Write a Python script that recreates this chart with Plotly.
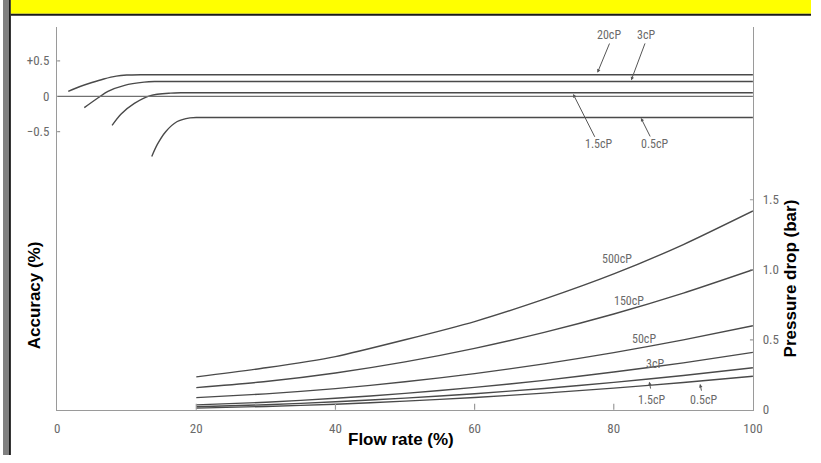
import plotly.graph_objects as go

W, H = 821, 463

# ---------------- data ----------------
# Accuracy (%) vs flow rate (%) – upper curves
acc_20cp_x = [1.6, 3.2, 5.0, 6.7, 8.5, 10.0, 12.0, 100]
acc_20cp_y = [0.07, 0.135, 0.195, 0.245, 0.285, 0.30, 0.305, 0.305]
acc_3cp_x = [3.9, 5.9, 7.3, 9.7, 12.5, 14.0, 100]
acc_3cp_y = [-0.16, -0.02, 0.07, 0.155, 0.20, 0.21, 0.21]
acc_15cp_x = [7.9, 9.2, 11.1, 13.4, 16.3, 18.0, 100]
acc_15cp_y = [-0.41, -0.25, -0.10, 0.01, 0.045, 0.05, 0.05]
acc_05cp_x = [13.6, 14.4, 15.6, 17.2, 19.1, 20.5, 100]
acc_05cp_y = [-0.85, -0.68, -0.50, -0.36, -0.305, -0.30, -0.30]

# Pressure drop (bar) vs flow rate (%) – lower curves
flow = [20, 30, 40, 50, 60, 70, 80, 90, 100]
dp_500cp = [0.235, 0.30, 0.38, 0.50, 0.63, 0.79, 0.97, 1.18, 1.42]
dp_150cp = [0.158, 0.202, 0.263, 0.342, 0.439, 0.553, 0.684, 0.833, 1.00]
dp_50cp = [0.087, 0.114, 0.151, 0.200, 0.258, 0.328, 0.408, 0.499, 0.60]
dp_3cp = [0.035, 0.054, 0.082, 0.117, 0.160, 0.210, 0.270, 0.335, 0.41]
dp_15cp = [0.022, 0.036, 0.057, 0.083, 0.115, 0.152, 0.196, 0.245, 0.30]
dp_05cp = [0.012, 0.024, 0.040, 0.062, 0.088, 0.119, 0.155, 0.195, 0.24]

x_ticks = [0, 20, 40, 60, 80, 100]
acc_ticks = [0.5, 0, -0.5]
acc_tick_text = ["+0.5", "0", "\u22120.5"]
dp_ticks = [0, 0.5, 1.0, 1.5]
dp_tick_text = ["0", "0.5", "1.0", "1.5"]

# ---------------- style ----------------
LINE = "#4a4a4a"
AXC = "#9a9a9a"
TXT = "#6a6a6a"
SCAN_FONT = "Liberation Sans Narrow, Roboto Condensed, Liberation Sans, sans-serif"
TITLE_FONT = "Liberation Sans, Arial, sans-serif"

def py(px):  # pixel row -> paper y
    return 1 - px / H

def pxx(px):  # pixel col -> paper x
    return px / W

fig = go.Figure()

for xs, ys in [(acc_20cp_x, acc_20cp_y), (acc_3cp_x, acc_3cp_y),
               (acc_15cp_x, acc_15cp_y), (acc_05cp_x, acc_05cp_y)]:
    fig.add_trace(go.Scatter(x=xs, y=ys, mode="lines", yaxis="y",
                             line=dict(color=LINE, width=1.4, shape="spline", smoothing=0.8),
                             hoverinfo="skip", showlegend=False))

for ys in [dp_500cp, dp_150cp, dp_50cp, dp_3cp, dp_15cp, dp_05cp]:
    fig.add_trace(go.Scatter(x=flow, y=ys, mode="lines", yaxis="y2",
                             line=dict(color=LINE, width=1.4, shape="spline", smoothing=0.6),
                             hoverinfo="skip", showlegend=False))

dom_x = [pxx(55), pxx(762)]
dom_y = [py(417), py(27)]

fig.update_layout(
    width=W, height=H, autosize=False,
    margin=dict(l=0, r=0, t=0, b=0),
    paper_bgcolor="white", plot_bgcolor="white",
    xaxis=dict(domain=dom_x, range=[0, 100], showgrid=False, zeroline=False,
               showline=True, linecolor=AXC, linewidth=1.2, mirror=False,
               tickvals=x_ticks, ticks="", ticklabelstandoff=7,
               tickfont=dict(family=SCAN_FONT, size=13, color=TXT)),
    yaxis=dict(domain=dom_y, range=[-4.431, 0.986], showgrid=False, zeroline=False,
               showline=True, linecolor=AXC, linewidth=1.2,
               tickvals=acc_ticks, ticktext=acc_tick_text, ticks="", ticklabelstandoff=4,
               tickfont=dict(family=SCAN_FONT, size=13, color=TXT)),
    yaxis2=dict(domain=dom_y, range=[0, 2.737], overlaying="y", side="right",
                showgrid=False, zeroline=False, showline=True, linecolor=AXC, linewidth=1.2,
                tickvals=dp_ticks, ticktext=dp_tick_text, ticks="", ticklabelstandoff=6,
                tickfont=dict(family=SCAN_FONT, size=13, color=TXT)),
)

shapes = []
# frame decorations: gray left strip, yellow header band
shapes.append(dict(type="rect", xref="paper", yref="paper", x0=0, x1=pxx(6), y0=0, y1=1,
                   fillcolor="#808080", line_width=0, layer="above"))
shapes.append(dict(type="rect", xref="paper", yref="paper", x0=pxx(6), x1=pxx(8), y0=0, y1=1,
                   fillcolor="#1a1a1a", line_width=0, layer="above"))
shapes.append(dict(type="rect", xref="paper", yref="paper", x0=pxx(8), x1=1, y0=py(14), y1=1,
                   fillcolor="#ffff00", line_width=0, layer="above"))
shapes.append(dict(type="rect", xref="paper", yref="paper", x0=pxx(8), x1=1, y0=py(16), y1=py(14),
                   fillcolor="#1a1a1a", line_width=0, layer="above"))
# zero reference line of the accuracy scale
shapes.append(dict(type="line", xref="x", yref="y", x0=0, x1=100, y0=0, y1=0,
                   line=dict(color="#707070", width=1.2)))
# crossing tick marks
for v in acc_ticks:
    if v != 0:
        shapes.append(dict(type="line", xref="x", yref="y", xsizemode="pixel", xanchor=0,
                           x0=-4, x1=3, y0=v, y1=v, line=dict(color=AXC, width=1.2)))
for v in dp_ticks[1:]:
    shapes.append(dict(type="line", xref="x", yref="y2", xsizemode="pixel", xanchor=100,
                       x0=-3, x1=4, y0=v, y1=v, line=dict(color=AXC, width=1.2)))
for v in x_ticks[1:-1]:
    shapes.append(dict(type="line", xref="x", yref="y2", ysizemode="pixel", yanchor=0,
                       x0=v, x1=v, y0=-3, y1=6, line=dict(color=AXC, width=1.2)))
fig.update_layout(shapes=shapes)

ann = []
lab_font = dict(family=SCAN_FONT, size=12, color=TXT)
# upper curve labels (accuracy scale)
for text, x, y in [("20cP", 79.35, 0.86), ("3cP", 84.7, 0.86),
                   ("1.5cP", 77.9, -0.68), ("0.5cP", 85.9, -0.68)]:
    ann.append(dict(text=text, x=x, y=y, xref="x", yref="y", showarrow=False, font=lab_font,
                    xanchor="center", yanchor="middle"))
# lower curve labels (pressure scale)
for text, x, y in [("500cP", 80.5, 1.074), ("150cP", 82.15, 0.774), ("50cP", 84.3, 0.505),
                   ("3cP", 85.9, 0.33), ("1.5cP", 85.56, 0.07), ("0.5cP", 93.0, 0.07)]:
    ann.append(dict(text=text, x=x, y=y, xref="x", yref="y2", showarrow=False, font=lab_font,
                    xanchor="center", yanchor="middle"))
# pointer arrows
for x, y, yr, ax, ay in [(77.65, 0.333, "y", 12.7, -30.7), (82.5, 0.226, "y", 14.4, -38.4),
                         (74.16, 0.032, "y", 22.4, 44.3), (83.9, -0.306, "y", 10, 20),
                         (85.1, 0.201, "y2", 1.6, 8.4), (92.4, 0.185, "y2", 1.7, 8.3)]:
    ann.append(dict(text="", x=x, y=y, xref="x", yref=yr, ax=ax, ay=ay, showarrow=True,
                    arrowhead=2, arrowsize=0.7, arrowwidth=1, arrowcolor="#555555", standoff=0))
# axis titles
title_font = dict(family=TITLE_FONT, size=17, color="black")
ann.append(dict(text="<b>Flow rate (%)</b>", x=pxx(404), y=py(447), xref="paper", yref="paper",
                showarrow=False, font=title_font, xanchor="center", yanchor="middle"))
ann.append(dict(text="<b>Accuracy (%)</b>", x=pxx(32), y=py(300), xref="paper", yref="paper",
                showarrow=False, textangle=-90, font=title_font, xanchor="center", yanchor="middle"))
ann.append(dict(text="<b>Pressure drop (bar)</b>", x=pxx(800), y=py(283), xref="paper", yref="paper",
                showarrow=False, textangle=-90, font=title_font, xanchor="center", yanchor="middle"))
fig.update_layout(annotations=ann)

page_fix = (
    "var h=document.documentElement,b=document.body;"
    "h.style.margin='0';h.style.padding='0';h.style.overflow='hidden';"
    "b.style.margin='0';b.style.padding='0';b.style.overflow='hidden';"
    "var gd=document.getElementById('{plot_id}');"
    "var cw=window.innerWidth,ch=window.innerHeight;"
    "if(cw>0&&ch>0&&(cw!==821||ch!==463)){"
    "gd.style.width=cw+'px';gd.style.height=ch+'px';"
    "Plotly.relayout(gd,{width:cw,height:ch});}"
)
fig.write_html("out.html", config={"displayModeBar": False, "responsive": False},
               post_script=page_fix)
